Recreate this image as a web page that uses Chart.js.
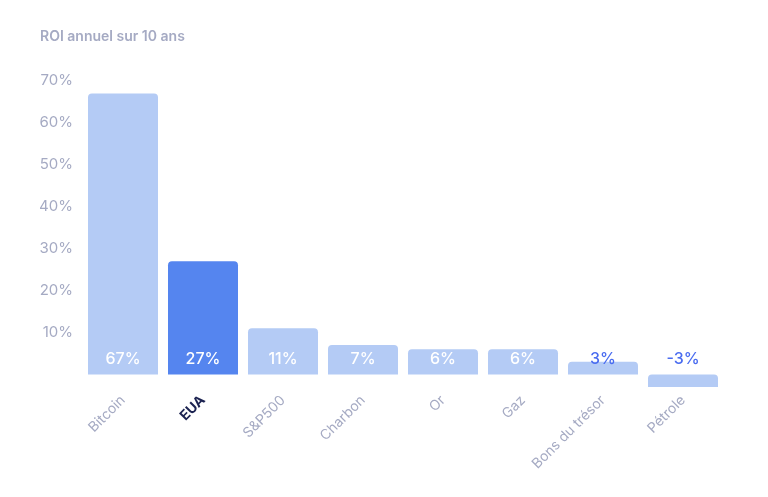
<!DOCTYPE html>
<html>
<head>
<meta charset="utf-8">
<script src="https://cdn.jsdelivr.net/npm/chart.js@4"></script>
<style>
  html, body { margin: 0; padding: 0; background: #ffffff; }
  #wrap { width: 768px; height: 497px; position: relative; }
</style>
</head>
<body>
<div id="wrap"><canvas id="roiChart"></canvas></div>
<script>
// données
const categories = ['Bitcoin', 'EUA', 'S&P500', 'Charbon', 'Or', 'Gaz', 'Bons du trésor', 'Pétrole'];
const roiValues = [67, 27, 11, 7, 6, 6, 3, -3];
const yTickStep = 10;
const yMin = -3;
const yMax = 70;
const highlight = 'EUA';

const grey = '#a5aac3';
const lightBar = '#b4cbf5';
const darkBar = '#5585ef';
const labelBlue = '#4a6cf0';

// étiquettes de valeur posées juste au-dessus de la ligne zéro
const valueLabels = {
    id: 'valueLabels',
    afterDatasetsDraw(chart) {
        const ctx = chart.ctx;
        const y = chart.scales.y;
        const zeroY = y.getPixelForValue(0);
        const meta = chart.getDatasetMeta(0);
        ctx.save();
        ctx.font = '500 16px Inter';
        ctx.textAlign = 'center';
        ctx.textBaseline = 'middle';
        meta.data.forEach((bar, i) => {
            const v = roiValues[i];
            ctx.fillStyle = v >= 5 ? '#ffffff' : labelBlue;
            ctx.fillText(v + '%', bar.x, zeroY - 15);
        });
        ctx.restore();
    }
};

const ctx = document.getElementById('roiChart').getContext('2d');
new Chart(ctx, {
    type: 'bar',
    data: {
        labels: categories,
        datasets: [{
            data: roiValues,
            backgroundColor: categories.map(c => c === highlight ? darkBar : lightBar),
            borderRadius: { topLeft: 4, topRight: 4, bottomLeft: 0, bottomRight: 0 },
            borderSkipped: false,
            barPercentage: 0.875,
            categoryPercentage: 1
        }]
    },
    options: {
        responsive: true,
        maintainAspectRatio: false,
        animation: false,
        layout: { padding: { left: 40, right: 45, top: 28, bottom: 0 } },
        plugins: {
            legend: { display: false },
            tooltip: { enabled: false },
            title: {
                display: true,
                text: 'ROI annuel sur 10 ans',
                align: 'start',
                color: grey,
                font: { family: 'Inter', size: 14, weight: '600' },
                padding: { top: 0, bottom: 36 }
            }
        },
        scales: {
            x: {
                grid: { display: false },
                border: { display: false },
                ticks: {
                    minRotation: 45,
                    maxRotation: 45,
                    padding: -3,
                    color: (c) => categories[c.index] === highlight ? '#1b2250' : grey,
                    font: (c) => ({
                        family: 'Inter',
                        size: 14,
                        weight: categories[c.index] === highlight ? '700' : '400'
                    })
                },
                afterFit(scale) { scale.height = 110; }
            },
            y: {
                min: yMin,
                max: yMax,
                grid: { display: false, drawTicks: false },
                border: { display: false },
                ticks: {
                    stepSize: yTickStep,
                    color: grey,
                    font: { family: 'Inter', size: 15 },
                    padding: 10,
                    callback: function (value) { return value > 0 ? value + '%' : ''; }
                },
                afterFit(scale) { scale.width = 43; }
            }
        }
    },
    plugins: [valueLabels]
});
</script>
</body>
</html>
